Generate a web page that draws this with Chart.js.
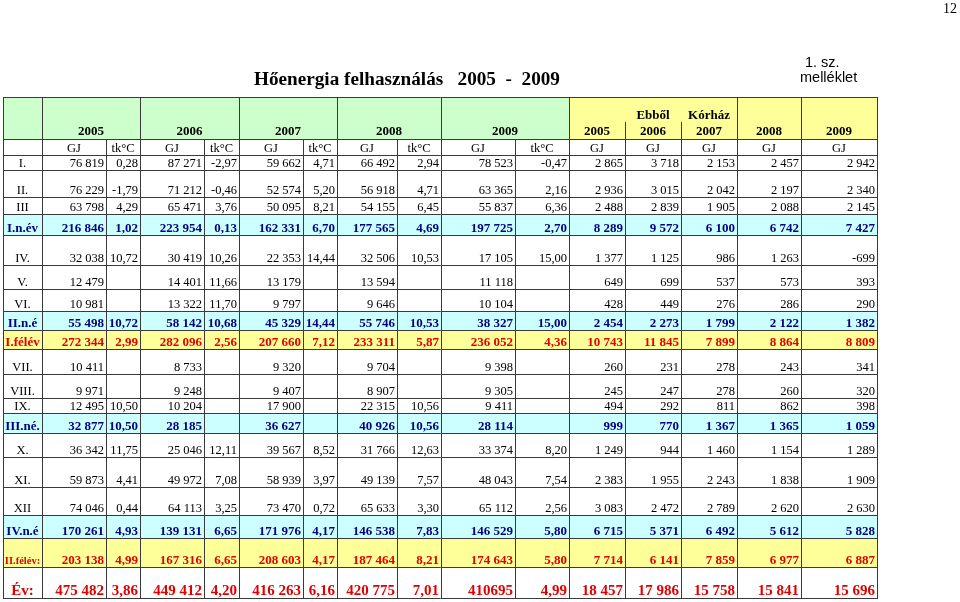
<!DOCTYPE html>
<html><head><meta charset="utf-8">
<script src="https://cdn.jsdelivr.net/npm/chart.js@4.4.1/dist/chart.umd.min.js"></script>
<style>
html,body{margin:0;padding:0;background:#fff;}
#wrap{position:relative;width:960px;height:602px;overflow:hidden;}
canvas{position:absolute;left:0;top:0;}
.t{position:absolute;white-space:pre;color:#000;line-height:1;}
</style></head><body>
<div id="wrap">
<canvas id="c" width="960" height="602" style="width:960px;height:602px"></canvas>
<div class="t" style="left:943px;top:1px;font:14px 'Liberation Serif'">12</div>
<div class="t" style="left:254px;top:68px;font:bold 19.2px 'Liberation Serif'">Hőenergia felhasználás   2005  -  2009</div>
<div class="t" style="left:805px;top:54px;font:14.5px 'Liberation Sans'">1. sz.</div>
<div class="t" style="left:800px;top:69px;font:14.5px 'Liberation Sans'">melléklet</div>
</div>
<script>
// ---------------- DATA ----------------
const rowLabels = ['I.','II.','III','I.n.év','IV.','V.','VI.','II.n.é','I.félév','VII.','VIII.','IX.','III.né.','X.','XI.','XII','IV.n.é','II.félév:','Év:'];
const years = ['2005','2006','2007','2008','2009'];
const hospitalTitle = ['Ebből','Kórház'];
const unitGJ = 'GJ', unitTk = 'tk°C';

const gj2005 = [76819,76229,63798,216846,32038,12479,10981,55498,272344,10411,9971,12495,32877,36342,59873,74046,170261,203138,475482];
const tk2005 = [0.28,-1.79,4.29,1.02,10.72,null,null,10.72,2.99,null,null,10.50,10.50,11.75,4.41,0.44,4.93,4.99,3.86];
const gj2006 = [87271,71212,65471,223954,30419,14401,13322,58142,282096,8733,9248,10204,28185,25046,49972,64113,139131,167316,449412];
const tk2006 = [-2.97,-0.46,3.76,0.13,10.26,11.66,11.70,10.68,2.56,null,null,null,null,12.11,7.08,3.25,6.65,6.65,4.20];
const gj2007 = [59662,52574,50095,162331,22353,13179,9797,45329,207660,9320,9407,17900,36627,39567,58939,73470,171976,208603,416263];
const tk2007 = [4.71,5.20,8.21,6.70,14.44,null,null,14.44,7.12,null,null,null,null,8.52,3.97,0.72,4.17,4.17,6.16];
const gj2008 = [66492,56918,54155,177565,32506,13594,9646,55746,233311,9704,8907,22315,40926,31766,49139,65633,146538,187464,420775];
const tk2008 = [2.94,4.71,6.45,4.69,10.53,null,null,10.53,5.87,null,null,10.56,10.56,12.63,7.57,3.30,7.83,8.21,7.01];
const gj2009 = [78523,63365,55837,197725,17105,11118,10104,38327,236052,9398,9305,9411,28114,33374,48043,65112,146529,174643,410695];
const tk2009 = [-0.47,2.16,6.36,2.70,15.00,null,null,15.00,4.36,null,null,null,null,8.20,7.54,2.56,5.80,5.80,4.99];

const korhaz2005 = [2865,2936,2488,8289,1377,649,428,2454,10743,260,245,494,999,1249,2383,3083,6715,7714,18457];
const korhaz2006 = [3718,3015,2839,9572,1125,699,449,2273,11845,231,247,292,770,944,1955,2472,5371,6141,17986];
const korhaz2007 = [2153,2042,1905,6100,986,537,276,1799,7899,278,278,811,1367,1460,2243,2789,6492,7859,15758];
const korhaz2008 = [2457,2197,2088,6742,1263,573,286,2122,8864,243,260,862,1365,1154,1838,2620,5612,6977,15841];
const korhaz2009 = [2942,2340,2145,7427,-699,393,290,1382,8809,341,320,398,1059,1289,1909,2630,5828,6887,15696];

// cells written without thousands separator in the source
const ungroupedCells = [['gj2009', 18]];

// ---------------- LAYOUT / STYLE ----------------
const colEdges = [3,42,106,140,204,239,303,337,397,441,515,569,625,681,737,801,877];
const rowEdges = [97,139,155,170,197,214,235,265,289,311,330,349,374,398,413,433,457,487,515,538,567,598];
const rowKind  = ['n','n','n','q','n','n','n','q','h','n','n','n','q','n','n','n','q','h','y'];
const hospPartialTop = 122;
const FONT = "'Liberation Serif'";
const C_GREEN='#ccffcc', C_YELLOW='#ffff99', C_CYAN='#ccffff', C_NAVY='#000080', C_RED='#e00000', C_LINE='#3a3a3a';

const fmtGJ = (v, key, i) => {
  if (v == null) return '';
  const raw = ungroupedCells.some(([k, r]) => k === key && r === i);
  const s = String(Math.abs(v));
  return (v < 0 ? '-' : '') + (raw ? s : s.replace(/\B(?=(\d{3})+(?!\d))/g, ' '));
};
const fmtTk = v => v == null ? '' : v.toFixed(2).replace('.', ',');

const columns = [
  {key:'label', texts: rowLabels, align:'center'},
  {key:'gj2005', texts: gj2005.map((v,i)=>fmtGJ(v,'gj2005',i)), align:'right'},
  {key:'tk2005', texts: tk2005.map(fmtTk), align:'right'},
  {key:'gj2006', texts: gj2006.map((v,i)=>fmtGJ(v,'gj2006',i)), align:'right'},
  {key:'tk2006', texts: tk2006.map(fmtTk), align:'right'},
  {key:'gj2007', texts: gj2007.map((v,i)=>fmtGJ(v,'gj2007',i)), align:'right'},
  {key:'tk2007', texts: tk2007.map(fmtTk), align:'right'},
  {key:'gj2008', texts: gj2008.map((v,i)=>fmtGJ(v,'gj2008',i)), align:'right'},
  {key:'tk2008', texts: tk2008.map(fmtTk), align:'right'},
  {key:'gj2009', texts: gj2009.map((v,i)=>fmtGJ(v,'gj2009',i)), align:'right'},
  {key:'tk2009', texts: tk2009.map(fmtTk), align:'right'},
  {key:'k2005', texts: korhaz2005.map((v,i)=>fmtGJ(v,'k2005',i)), align:'right'},
  {key:'k2006', texts: korhaz2006.map((v,i)=>fmtGJ(v,'k2006',i)), align:'right'},
  {key:'k2007', texts: korhaz2007.map((v,i)=>fmtGJ(v,'k2007',i)), align:'right'},
  {key:'k2008', texts: korhaz2008.map((v,i)=>fmtGJ(v,'k2008',i)), align:'right'},
  {key:'k2009', texts: korhaz2009.map((v,i)=>fmtGJ(v,'k2009',i)), align:'right'}
];

const anchorX = (c, align) => align === 'right' ? colEdges[c+1] : (colEdges[c] + colEdges[c+1]) / 2;

const datasets = columns.map((col, c) => ({
  label: col.key,
  texts: col.texts,
  align: col.align,
  data: rowLabels.map((_, r) => ({x: anchorX(c, col.align), y: rowEdges[r+3]})),
  pointRadius: 0, pointHoverRadius: 0, showLine: false
}));

function styleFor(kind, isLabel, text) {
  if (kind === 'q') return {font: 'bold 13px ' + FONT, color: C_NAVY};
  if (kind === 'h') {
    if (isLabel && text.length > 7) return {font: 'bold 10.5px ' + FONT, color: C_RED};
    return {font: 'bold 13px ' + FONT, color: C_RED};
  }
  if (kind === 'y') return {font: 'bold 15px ' + FONT, color: C_RED};
  return {font: '12.5px ' + FONT, color: '#000'};
}

const tablePlugin = {
  id: 'table',
  beforeDatasetsDraw(chart) {
    const {ctx, scales: {x, y}} = chart;
    const X = v => Math.round(x.getPixelForValue(v));
    const Y = v => Math.round(y.getPixelForValue(v));
    const L = X(colEdges[0]), R = X(colEdges[colEdges.length-1]);
    ctx.save();
    ctx.fillStyle = C_GREEN;
    ctx.fillRect(L, Y(rowEdges[0]), X(colEdges[11]) - L, Y(rowEdges[1]) - Y(rowEdges[0]));
    ctx.fillStyle = C_YELLOW;
    ctx.fillRect(X(colEdges[11]), Y(rowEdges[0]), R - X(colEdges[11]), Y(rowEdges[1]) - Y(rowEdges[0]));
    rowKind.forEach((k, r) => {
      if (k !== 'q' && k !== 'h') return;
      ctx.fillStyle = k === 'q' ? C_CYAN : C_YELLOW;
      ctx.fillRect(L, Y(rowEdges[r+2]), R - L, Y(rowEdges[r+3]) - Y(rowEdges[r+2]));
    });
    ctx.strokeStyle = C_LINE; ctx.lineWidth = 1;
    ctx.beginPath();
    rowEdges.forEach(e => { const py = Y(e) + 0.5; ctx.moveTo(L, py); ctx.lineTo(R + 1, py); });
    const fullHeader = [0,1,3,5,7,9,11,14,15,16];
    fullHeader.forEach(i => { const px = X(colEdges[i]) + 0.5; ctx.moveTo(px, Y(rowEdges[0])); ctx.lineTo(px, Y(rowEdges[1])); });
    [12,13].forEach(i => { const px = X(colEdges[i]) + 0.5; ctx.moveTo(px, Y(hospPartialTop)); ctx.lineTo(px, Y(rowEdges[1])); });
    colEdges.forEach(e => { const px = X(e) + 0.5; ctx.moveTo(px, Y(rowEdges[1])); ctx.lineTo(px, Y(rowEdges[rowEdges.length-1]) + 1); });
    ctx.stroke();
    ctx.restore();
  },
  afterDatasetsDraw(chart) {
    const {ctx, scales: {x, y}} = chart;
    const X = v => x.getPixelForValue(v);
    const Y = v => y.getPixelForValue(v);
    ctx.save();
    ctx.textBaseline = 'alphabetic';
    ctx.fillStyle = '#000';
    ctx.font = 'bold 13px ' + FONT;
    ctx.textAlign = 'center';
    years.forEach((yr, i) => {
      const cx = (X(colEdges[1 + 2*i]) + X(colEdges[3 + 2*i])) / 2;
      ctx.fillText(yr, cx, Y(rowEdges[1]) - 4.5);
    });
    years.forEach((yr, i) => {
      const cx = (X(colEdges[11 + i]) + X(colEdges[12 + i])) / 2;
      ctx.fillText(yr, cx, Y(rowEdges[1]) - 4.5);
    });
    hospitalTitle.forEach((w, i) => {
      const cx = (X(colEdges[12 + i]) + X(colEdges[13 + i])) / 2;
      ctx.fillText(w, cx, Y(hospPartialTop) - 3);
    });
    ctx.font = '12.5px ' + FONT;
    for (let c = 1; c < 16; c++) {
      const t = (c <= 10 && c % 2 === 0) ? unitTk : unitGJ;
      ctx.fillText(t, (X(colEdges[c]) + X(colEdges[c+1])) / 2, Y(rowEdges[2]) - 3);
    }
    chart.data.datasets.forEach((ds, di) => {
      const meta = chart.getDatasetMeta(di);
      meta.data.forEach((el, r) => {
        const txt = ds.texts[r];
        if (!txt) return;
        const st = styleFor(rowKind[r], di === 0, txt);
        ctx.font = st.font; ctx.fillStyle = st.color;
        ctx.textAlign = ds.align;
        const px = ds.align === 'right' ? el.x - 2 : el.x;
        ctx.fillText(txt, px, el.y - 3);
      });
    });
    ctx.restore();
  }
};

new Chart(document.getElementById('c'), {
  type: 'scatter',
  data: {datasets},
  options: {
    responsive: false, animation: false, devicePixelRatio: 1, events: [],
    layout: {padding: {left: colEdges[0], right: 960 - colEdges[colEdges.length-1], top: rowEdges[0], bottom: 602 - rowEdges[rowEdges.length-1]}},
    scales: {
      x: {type: 'linear', min: colEdges[0], max: colEdges[colEdges.length-1], display: false},
      y: {type: 'linear', min: rowEdges[0], max: rowEdges[rowEdges.length-1], reverse: true, display: false}
    },
    plugins: {legend: {display: false}, tooltip: {enabled: false}, title: {display: false}}
  },
  plugins: [tablePlugin]
});
</script>
</body></html>
